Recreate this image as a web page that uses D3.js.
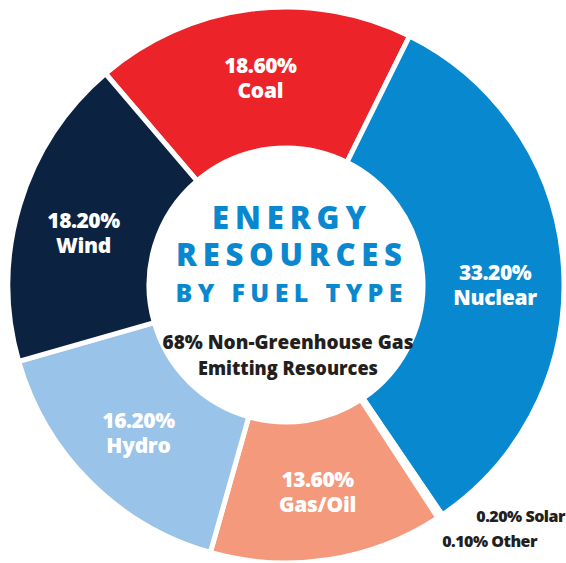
<!DOCTYPE html>
<html><head><meta charset="utf-8">
<script src="https://cdn.jsdelivr.net/npm/d3@7"></script>
<style>
html,body{margin:0;padding:0;background:#fff;}
svg{display:block;}
text{font-family:"Open Sans",Lato,sans-serif;}
</style></head>
<body>
<script>
const categories = ["Coal","Nuclear","Solar","Other","Gas/Oil","Hydro","Wind"];
const values = [18.6, 33.2, 0.2, 0.1, 13.6, 16.2, 18.2];
const colors = ["#ec2328","#0788cf","#ffffff","#ffffff","#f4997b","#99c3e8","#0b2340"];
const insideLabels = ["Coal","Nuclear","Gas/Oil","Hydro","Wind"];
const outsideLabels = ["Solar","Other"];
const titleLines = ["ENERGY","RESOURCES","BY FUEL TYPE"];
const subtitleLines = ["68% Non-Greenhouse Gas","Emitting Resources"];

const W = 566, H = 563;
const cx = 286, cy = 285, R = 278, r = 137;

const svg = d3.select("body").append("svg").attr("width", W).attr("height", H);
const g = svg.append("g").attr("transform", `translate(${cx},${cy})`);

const data = categories.map((c,i)=>({cat:c, value:values[i], color:colors[i]}));
const start = -40.5 * Math.PI/180;
const pie = d3.pie().value(d=>d.value).sort(null).startAngle(start).endAngle(start + 2*Math.PI);
const arcs = pie(data);
const arc = d3.arc().innerRadius(r).outerRadius(R);

g.selectAll("path.slice").data(arcs).join("path")
  .attr("class","slice")
  .attr("d", arc)
  .attr("fill", d=>d.data.color)
  .attr("stroke", "#fff")
  .attr("stroke-width", 5)
  .attr("stroke-linejoin", "miter");

const fmt = v => v.toFixed(2) + "%";
const nudge = {"Nuclear": 3.8, "Wind": -2.5};
function labelPos(d){
  const a = (d.startAngle + d.endAngle)/2 + (nudge[d.data.cat]||0)*Math.PI/180;
  const rr = 209;
  return [rr*Math.sin(a), -rr*Math.cos(a)];
}
const inside = arcs.filter(a => insideLabels.includes(a.data.cat));
const lt = g.selectAll("text.lbl").data(inside).join("text")
  .attr("class","lbl")
  .attr("transform", d => { const c = labelPos(d); return `translate(${c[0]},${c[1]})`; })
  .attr("text-anchor","middle")
  .attr("fill","#fff").attr("font-size", 21).attr("font-weight", 800);
lt.append("tspan").attr("x",0).attr("y",-5).attr("letter-spacing",-0.5)
  .text(d => fmt(d.data.value));
lt.append("tspan").attr("x",0).attr("y",20).attr("letter-spacing",-0.3)
  .text(d => d.data.cat);

const outs = arcs.filter(a => outsideLabels.includes(a.data.cat));
svg.selectAll("text.out").data(outs).join("text")
  .attr("class","out")
  .attr("x", (d,i)=> i===0 ? 565 : 537)
  .attr("y", (d,i)=> i===0 ? 522 : 547)
  .attr("text-anchor","end")
  .attr("fill","#231f20").attr("font-size", 16).attr("font-weight", 800)
  .attr("letter-spacing", -0.5)
  .text(d => fmt(d.data.value) + " " + d.data.cat);

const tsizes = [31, 31, 25];
const tys = [229, 266, 302];
const twidths = [154, 226, 227];
const title = svg.append("text").attr("class","title")
  .attr("text-anchor","middle")
  .attr("fill","#0a88cf").attr("font-weight",800);
title.selectAll("tspan").data(titleLines).join("tspan")
  .attr("x", 289).attr("y", (d,i)=>tys[i])
  .attr("font-size",(d,i)=>tsizes[i])
  .attr("textLength",(d,i)=>twidths[i]).attr("lengthAdjust","spacing")
  .text(d=>d);

const sys = [349, 375];
const swidths = [251, 180];
const sub = svg.append("text").attr("class","sub")
  .attr("text-anchor","middle")
  .attr("fill","#231f20").attr("font-size",20).attr("font-weight",800);
sub.selectAll("tspan").data(subtitleLines).join("tspan")
  .attr("x", 288).attr("y",(d,i)=>sys[i])
  .attr("textLength",(d,i)=>swidths[i]).attr("lengthAdjust","spacingAndGlyphs")
  .text(d=>d);
</script>
</body></html>
